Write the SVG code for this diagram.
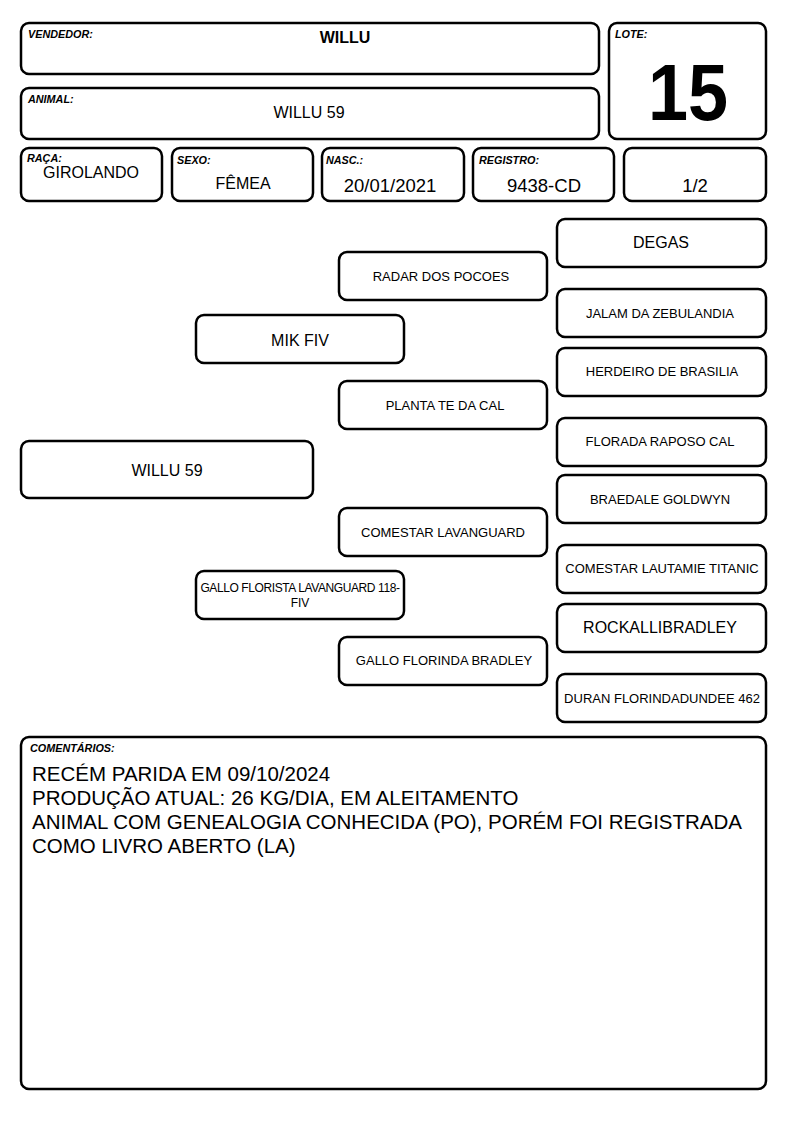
<svg xmlns="http://www.w3.org/2000/svg" width="794" height="1123" viewBox="0 0 794 1123">
<style>
.b{fill:#fff;stroke:#000;stroke-width:2.5}
.l{font-family:"Liberation Sans",Arial,sans-serif;font-size:10.8px;font-weight:bold;font-style:italic}
.t{font-family:"Liberation Sans",Arial,sans-serif;text-anchor:middle;fill:#000}
.s13{font-size:13px}.s16{font-size:16px}.s18{font-size:18.5px}
</style>
<rect width="794" height="1123" fill="#fff"/>
<g id="vendedor"><rect class="b" x="21" y="23" width="578" height="51" rx="8"/><text class="l" x="28" y="38">VENDEDOR:</text><text class="t s16" x="345" y="43" font-weight="bold">WILLU</text></g>
<g id="animal"><rect class="b" x="21" y="88" width="578" height="51" rx="8"/><text class="l" x="28" y="103">ANIMAL:</text><text class="t s16" x="309" y="118">WILLU 59</text></g>
<g id="lote"><rect class="b" x="609" y="23" width="157" height="116" rx="8"/><text class="l" x="615" y="38">LOTE:</text><text class="t" transform="translate(688 120) scale(0.9 1)" font-size="80" font-weight="bold">15</text></g>
<g id="raca"><rect class="b" x="21" y="148" width="141" height="53" rx="8"/><text class="l" x="27" y="162">RAÇA:</text><text class="t s16" x="91" y="178">GIROLANDO</text></g>
<g id="sexo"><rect class="b" x="172" y="148" width="141" height="53" rx="8"/><text class="l" x="177" y="164">SEXO:</text><text class="t s16" x="243" y="189">FÊMEA</text></g>
<g id="nasc"><rect class="b" x="322" y="148" width="142" height="53" rx="8"/><text class="l" x="326" y="164">NASC.:</text><text class="t s18" x="390" y="192">20/01/2021</text></g>
<g id="registro"><rect class="b" x="473" y="148" width="141" height="53" rx="8"/><text class="l" x="479" y="164">REGISTRO:</text><text class="t s18" x="544" y="192">9438-CD</text></g>
<g id="fracao"><rect class="b" x="624" y="148" width="142" height="53" rx="8"/><text class="t s18" x="695" y="192">1/2</text></g>
<g id="connectors"></g>
<g id="p0"><rect class="b" x="21" y="441" width="292" height="57" rx="8"/><text class="t s16" x="167" y="476">WILLU 59</text></g>
<g id="p1"><rect class="b" x="196" y="315" width="208" height="48" rx="8"/><text class="t s16" x="300" y="346">MIK FIV</text></g>
<g id="p2"><rect class="b" x="196" y="571" width="208" height="48" rx="8"/><text class="t" x="300" y="592" font-size="12" letter-spacing="-0.4">GALLO FLORISTA LAVANGUARD 118-</text><text class="t" x="300" y="607" font-size="12">FIV</text></g>
<g id="p3"><rect class="b" x="339" y="252" width="208" height="48" rx="8"/><text class="t s13" x="441" y="281">RADAR DOS POCOES</text></g>
<g id="p4"><rect class="b" x="339" y="381" width="208" height="48" rx="8"/><text class="t s13" x="445" y="410">PLANTA TE DA CAL</text></g>
<g id="p5"><rect class="b" x="339" y="508" width="208" height="48" rx="8"/><text class="t s13" x="443" y="537">COMESTAR LAVANGUARD</text></g>
<g id="p6"><rect class="b" x="339" y="637" width="208" height="48" rx="8"/><text class="t s13" x="444" y="665">GALLO FLORINDA BRADLEY</text></g>
<g id="p7"><rect class="b" x="557" y="219" width="209" height="48" rx="8"/><text class="t s16" x="661" y="248">DEGAS</text></g>
<g id="p8"><rect class="b" x="557" y="289" width="209" height="48" rx="8"/><text class="t s13" x="660" y="318">JALAM DA ZEBULANDIA</text></g>
<g id="p9"><rect class="b" x="557" y="348" width="209" height="48" rx="8"/><text class="t s13" x="662" y="376">HERDEIRO DE BRASILIA</text></g>
<g id="p10"><rect class="b" x="557" y="418" width="209" height="48" rx="8"/><text class="t s13" x="660" y="446">FLORADA RAPOSO CAL</text></g>
<g id="p11"><rect class="b" x="557" y="475" width="209" height="48" rx="8"/><text class="t s13" x="660" y="504">BRAEDALE GOLDWYN</text></g>
<g id="p12"><rect class="b" x="557" y="545" width="209" height="48" rx="8"/><text class="t s13" x="662" y="573">COMESTAR LAUTAMIE TITANIC</text></g>
<g id="p13"><rect class="b" x="557" y="604" width="209" height="48" rx="8"/><text class="t s16" x="660" y="633">ROCKALLIBRADLEY</text></g>
<g id="p14"><rect class="b" x="557" y="674" width="209" height="48" rx="8"/><text class="t s13" x="662" y="703">DURAN FLORINDADUNDEE 462</text></g>
<g id="comentarios"><rect class="b" x="21" y="737" width="745" height="352" rx="8"/><text class="l" x="30" y="752">COMENTÁRIOS:</text>
<g font-family="Liberation Sans,Arial,sans-serif" font-size="20.5"><text x="32" y="781">RECÉM PARIDA EM 09/10/2024</text><text x="32" y="805">PRODUÇÃO ATUAL: 26 KG/DIA, EM ALEITAMENTO</text><text x="32" y="829">ANIMAL COM GENEALOGIA CONHECIDA (PO), PORÉM FOI REGISTRADA</text><text x="32" y="853">COMO LIVRO ABERTO (LA)</text></g></g>
</svg>
